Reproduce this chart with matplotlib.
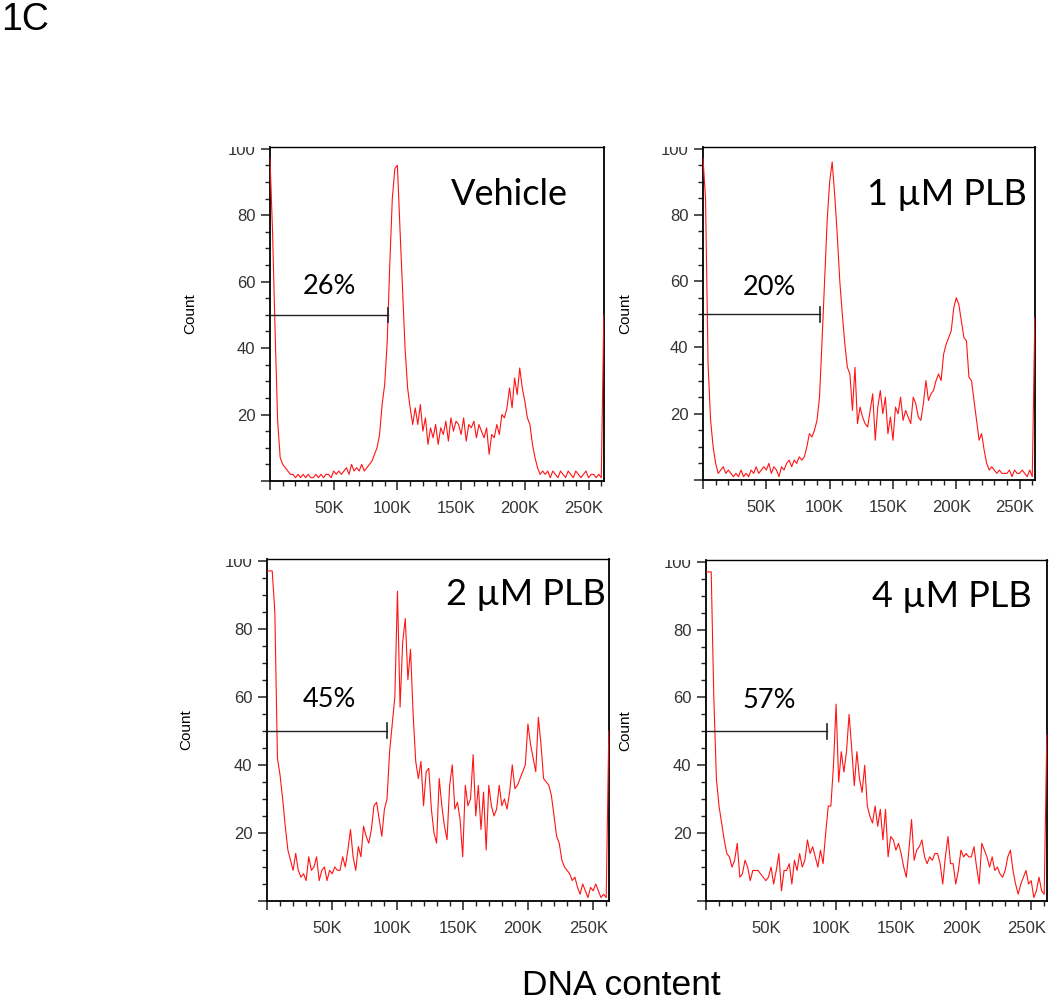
import numpy as np
import matplotlib
matplotlib.use("Agg")
import matplotlib.pyplot as plt
from matplotlib.ticker import MultipleLocator, FixedLocator, FixedFormatter
from matplotlib.transforms import Bbox, TransformedBbox, ScaledTranslation

# ---------------- data ----------------
# histogram bin centres (thousands of DNA-content units)
bin_k = np.arange(0, 263, 2)

titles = ["Vehicle", "1 \u00b5M PLB", "2 \u00b5M PLB", "4 \u00b5M PLB"]
sub_g1 = ["26%", "20%", "45%", "57%"]
gate_end_k = [93.0, 92.5, 92.3, 93.0]

counts_vehicle = [
    97, 75, 45, 18, 7, 5, 4, 3, 2, 2,
    1, 2, 1, 2, 1, 2, 1, 1, 2, 1,
    2, 1, 2, 2, 1, 3, 2, 3, 2, 3,
    4, 2, 5, 3, 4, 3, 5, 3, 4, 5,
    6, 8, 10, 14, 23, 29, 42, 65, 85, 94,
    95, 76, 58, 40, 28, 22, 17, 22, 17, 23,
    15, 19, 11, 16, 13, 17, 11, 16, 14, 18,
    12, 19, 15, 18, 17, 14, 19, 12, 17, 16,
    18, 13, 17, 15, 13, 16, 8, 14, 13, 17,
    14, 20, 19, 22, 28, 22, 31, 26, 34, 28,
    24, 19, 17, 11, 7, 4, 2, 3, 2, 3,
    1, 3, 2, 1, 3, 2, 1, 3, 2, 1,
    3, 2, 1, 2, 3, 1, 2, 2, 1, 2,
    1, 50,
]

counts_1uM = [
    97, 85, 35, 18, 10, 5, 2, 3, 4, 2,
    3, 2, 1, 2, 1, 3, 1, 2, 1, 3,
    2, 4, 2, 3, 4, 3, 5, 2, 4, 3,
    1, 4, 3, 5, 6, 4, 6, 5, 7, 6,
    7, 10, 14, 13, 15, 18, 25, 42, 60, 78,
    90, 96, 86, 74, 60, 50, 41, 34, 32, 21,
    34, 17, 22, 19, 17, 16, 21, 26, 12, 22,
    27, 20, 25, 14, 19, 12, 22, 20, 25, 18,
    21, 19, 17, 25, 23, 19, 18, 23, 30, 24,
    26, 27, 30, 32, 30, 38, 41, 43, 45, 52,
    55, 53, 48, 43, 42, 31, 30, 24, 18, 12,
    14, 9, 5, 3, 4, 3, 2, 3, 2, 2,
    2, 3, 1, 3, 2, 2, 3, 2, 1, 3,
    1, 49,
]

counts_2uM = [
    97, 97, 97, 85, 42, 37, 30, 22, 15, 12,
    9, 14, 9, 7, 8, 6, 13, 9, 10, 13,
    6, 9, 10, 6, 9, 8, 10, 9, 9, 13,
    10, 15, 21, 13, 9, 16, 13, 22, 19, 17,
    21, 28, 29, 24, 19, 27, 30, 44, 52, 60,
    91, 57, 76, 83, 65, 74, 55, 41, 36, 41,
    28, 38, 39, 27, 20, 17, 36, 28, 22, 18,
    34, 40, 27, 29, 24, 13, 34, 28, 30, 43,
    25, 34, 21, 32, 15, 34, 28, 25, 27, 34,
    28, 30, 27, 32, 40, 33, 34, 36, 38, 40,
    52, 46, 42, 38, 54, 46, 36, 35, 34, 31,
    25, 19, 17, 12, 10, 9, 8, 6, 7, 4,
    2, 5, 3, 1, 4, 3, 5, 3, 1, 2,
    1, 50,
]

counts_4uM = [
    97, 97, 97, 60, 36, 28, 23, 18, 14, 13,
    10, 12, 17, 7, 8, 12, 10, 6, 9, 9,
    9, 8, 7, 6, 7, 10, 5, 9, 14, 3,
    9, 9, 11, 5, 12, 9, 14, 10, 12, 18,
    14, 16, 13, 10, 15, 11, 20, 28, 28, 40,
    58, 35, 44, 38, 44, 55, 45, 34, 44, 36,
    32, 40, 28, 25, 23, 28, 22, 27, 18, 27,
    13, 19, 18, 15, 17, 14, 10, 7, 15, 24,
    12, 15, 16, 18, 13, 11, 13, 12, 14, 14,
    11, 5, 13, 19, 11, 11, 5, 9, 15, 13,
    14, 13, 13, 16, 10, 5, 17, 15, 13, 10,
    13, 9, 10, 8, 7, 9, 13, 15, 9, 5,
    2, 5, 7, 9, 5, 6, 1, 3, 7, 3,
    2, 49,
]

series = [counts_vehicle, counts_1uM, counts_2uM, counts_4uM]
x_ticks_k = [0, 50, 100, 150, 200, 250]
x_tick_labels = ["", "50K", "100K", "150K", "200K", "250K"]
y_ticks = [0, 20, 40, 60, 80, 100]
y_tick_labels = ["", "20", "40", "60", "80", "100"]

# ---------------- layout / style ----------------
W, H = 1050, 1001
fig = plt.figure(figsize=(W / 100, H / 100), dpi=100)

# pixel boxes (left, top, right, bottom)
boxes = [(270, 147, 604, 481), (703, 147, 1035, 480),
         (267, 559, 609, 901), (706, 560, 1047, 901)]
title_pos = [(0.892, 0.826), (0.976, 0.826), (0.991, 0.865), (0.956, 0.862)]
pct_pos = [(26.0, 56.4), (31.0, 55.9), (27.0, 57.0), (27.7, 57.0)]
label_x = [-0.219, -0.214, -0.216, -0.217]

tick_font = ["Liberation Sans", "DejaVu Sans"]
title_font = ["Lato", "DejaVu Sans"]
red = "#ff1414"

for i, (l, t, r, b) in enumerate(boxes):
    ax = fig.add_axes([l / W, 1 - b / H, (r - l) / W, (b - t) / H])
    ax.plot(bin_k * 1000, series[i], color=red, lw=0.8,
            zorder=3, clip_on=True)
    ax.set_xlim(0, 262144)
    ax.set_ylim(0, 100.5)

    # gate marker
    ge = gate_end_k[i] * 1000
    ax.plot([0, ge], [50, 50], color="#222222", lw=1.0, zorder=4)
    ax.plot([ge, ge], [47.8, 52.2], color="#222222", lw=1.2, zorder=4)

    ax.text(pct_pos[i][0] * 1000, pct_pos[i][1], sub_g1[i],
            fontsize=19.5, family=title_font, color="black",
            ha="left", va="baseline", zorder=5)
    ax.text(title_pos[i][0], title_pos[i][1], titles[i],
            transform=ax.transAxes, fontsize=26, family=title_font,
            color="black", ha="right", va="baseline", zorder=5)

    # ticks
    ax.xaxis.set_major_locator(FixedLocator([v * 1000 for v in x_ticks_k]))
    ax.xaxis.set_major_formatter(FixedFormatter(x_tick_labels))
    ax.xaxis.set_minor_locator(MultipleLocator(10000))
    ax.yaxis.set_major_locator(FixedLocator(y_ticks))
    ax.yaxis.set_major_formatter(FixedFormatter(y_tick_labels))
    ax.yaxis.set_minor_locator(MultipleLocator(5))
    ax.tick_params(which="major", direction="out", length=6.5, width=1.1,
                   color="#222222", labelsize=12, labelcolor="#333333")
    ax.tick_params(which="minor", direction="out", length=3.6, width=1.0,
                   color="#222222")
    ax.tick_params(axis="x", which="major", pad=8)
    ax.tick_params(axis="y", which="major", pad=4)
    for lab in ax.get_xticklabels():
        lab.set_fontfamily(tick_font)
        lab.set_transform(lab.get_transform() +
                          ScaledTranslation(-5 / 100, 0, fig.dpi_scale_trans))
    clip = TransformedBbox(Bbox([[-0.6, -0.1], [0.02, 1.0]]), ax.transAxes)
    for lab in ax.get_yticklabels():
        lab.set_fontfamily(tick_font)
        lab.set_clip_box(clip)
        lab.set_clip_on(True)

    for side in ["left", "bottom", "right"]:
        ax.spines[side].set_linewidth(1.3)
        ax.spines[side].set_color("black")
    ax.spines["top"].set_linewidth(1.0)
    ax.spines["top"].set_color("black")

    ax.set_ylabel("Count", fontsize=11, family=tick_font, color="black")
    ax.yaxis.set_label_coords(label_x[i], 0.5)

fig.text(0.0015, 1 - 30 / H, "1C", fontsize=27, family=tick_font,
         ha="left", va="baseline", color="black")
fig.text(621 / W, 1 - 995 / H, "DNA content", fontsize=25.5, family=tick_font,
         ha="center", va="baseline", color="black")

fig.savefig("out.png", dpi=100)
